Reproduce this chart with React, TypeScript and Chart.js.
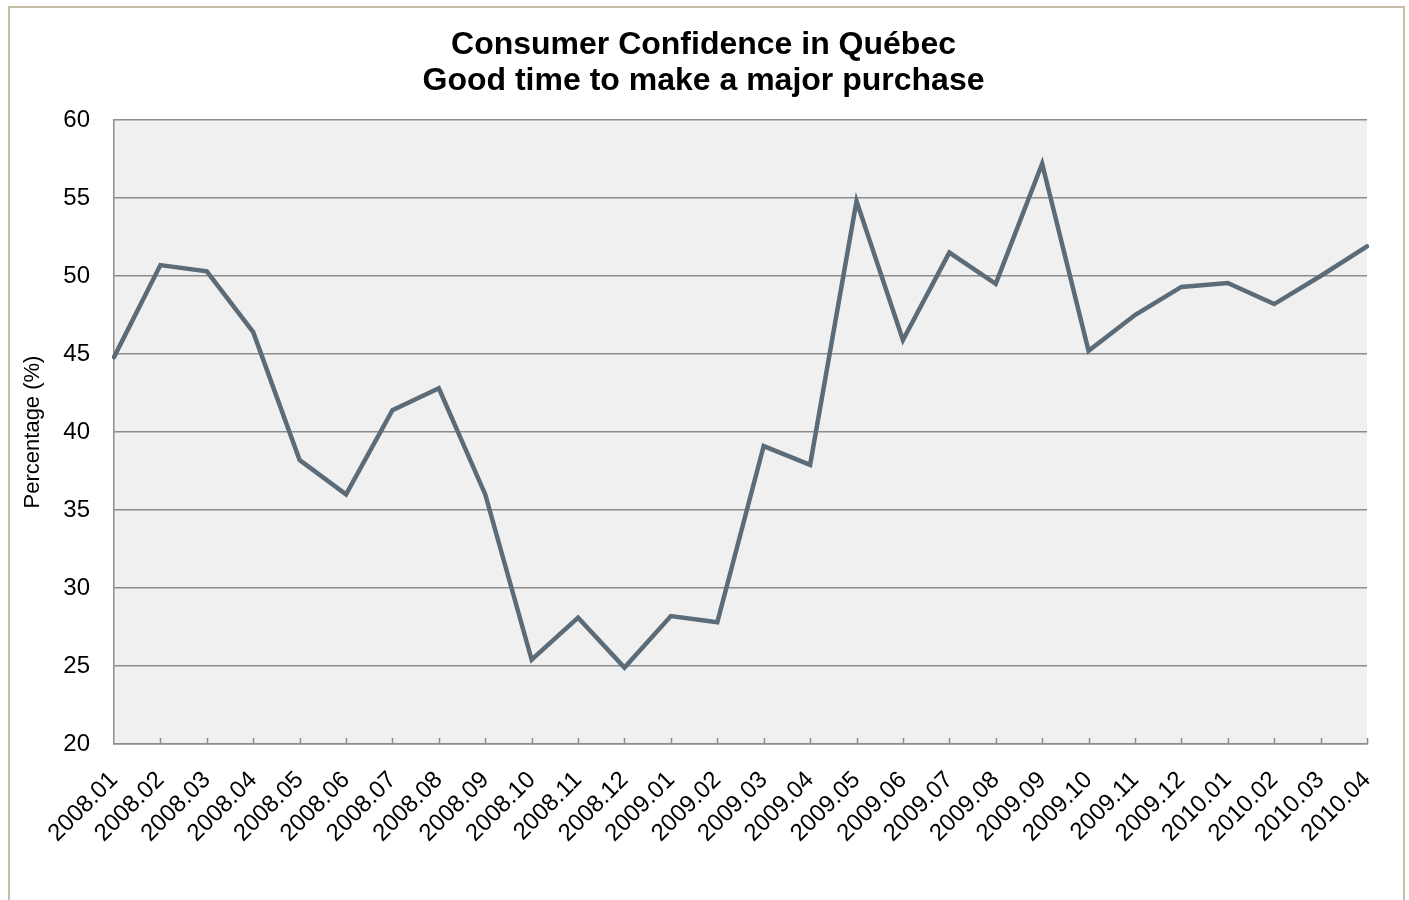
import React, { useEffect, useRef } from "react";
import { Chart, registerables } from "chart.js";

Chart.register(...registerables);

const categories = [
  "2008.01", "2008.02", "2008.03", "2008.04", "2008.05", "2008.06", "2008.07",
  "2008.08", "2008.09", "2008.10", "2008.11", "2008.12", "2009.01", "2009.02",
  "2009.03", "2009.04", "2009.05", "2009.06", "2009.07", "2009.08", "2009.09",
  "2009.10", "2009.11", "2009.12", "2010.01", "2010.02", "2010.03", "2010.04",
];

const confidence = [
  44.8, 50.7, 50.3, 46.4, 38.2, 36.0, 41.4,
  42.8, 36.0, 25.4, 28.1, 24.9, 28.2, 27.8,
  39.1, 37.9, 54.8, 45.9, 51.5, 49.5, 57.2,
  45.2, 47.5, 49.3, 49.55, 48.2, 50.0, 51.9,
];

const titleLines = ["Consumer Confidence in Québec", "Good time to make a major purchase"];
const yAxisTitle = "Percentage (%)";
const yMin = 20;
const yMax = 60;
const yStep = 5;

const FONT = "'Liberation Sans', Arial, sans-serif";

const plotBg = {
  id: "plotBg",
  beforeDraw(chart: any) {
    const { ctx, chartArea } = chart;
    if (!chartArea) return;
    ctx.save();
    ctx.fillStyle = "#f0f0f0";
    ctx.fillRect(chartArea.left, chartArea.top, chartArea.right - chartArea.left, chartArea.bottom - chartArea.top);
    ctx.restore();
  },
};

const innerTicks = {
  id: "innerTicks",
  afterDatasetsDraw(chart: any) {
    const { ctx } = chart;
    const xs = chart.scales.x;
    const bottom = chart.chartArea.bottom;
    ctx.save();
    ctx.strokeStyle = "#8c8c8c";
    ctx.lineWidth = 1.5;
    ctx.beginPath();
    for (let i = 1; i < xs.ticks.length; i++) {
      const px = Math.round(xs.getPixelForTick(i)) + 0.5;
      ctx.moveTo(px, bottom);
      ctx.lineTo(px, bottom - 6);
    }
    ctx.stroke();
    ctx.restore();
  },
};

export default function App() {
  const ref = useRef<HTMLCanvasElement | null>(null);

  useEffect(() => {
    if (!ref.current) return;
    const chart = new Chart(ref.current, {
      type: "line",
      data: {
        labels: categories,
        datasets: [
          {
            data: confidence,
            borderColor: "#5b6b77",
            borderWidth: 4.5,
            pointRadius: 0,
            tension: 0,
            borderCapStyle: "round",
            borderJoinStyle: "miter",
            fill: false,
          },
        ],
      },
      options: {
        animation: false,
        responsive: false,
        layout: { padding: { left: 30, right: 36, top: 0, bottom: 0 } },
        plugins: {
          legend: { display: false },
          tooltip: { enabled: false },
          title: {
            display: true,
            text: titleLines,
            color: "#000",
            font: { family: FONT, size: 32, weight: "bold", lineHeight: 1.125 },
            padding: { top: 19, bottom: 21 },
          },
        },
        scales: {
          x: {
            offset: false,
            grid: { display: false, drawTicks: false },
            border: { display: true, color: "#8c8c8c", width: 1.5 },
            ticks: {
              autoSkip: false,
              maxRotation: 45,
              minRotation: 45,
              padding: 22,
              color: "#000",
              font: { family: FONT, size: 24 },
            },
            afterFit(scale: any) {
              scale.height = 156;
              scale.paddingLeft = 0;
              scale.paddingRight = 0;
            },
          },
          y: {
            min: yMin,
            max: yMax,
            grid: { color: "#8c8c8c", lineWidth: 1.5, drawTicks: false },
            border: { display: true, color: "#8c8c8c", width: 1.5 },
            ticks: {
              stepSize: yStep,
              padding: 24,
              color: "#000",
              font: { family: FONT, size: 24 },
            },
            title: {
              display: true,
              text: yAxisTitle,
              color: "#000",
              font: { family: FONT, size: 22 },
              padding: { top: -20, bottom: 0 },
            },
            afterFit(scale: any) {
              scale.width = 74;
            },
          },
        },
      },
      plugins: [plotBg, innerTicks],
    });
    return () => chart.destroy();
  }, []);

  return (
    <div
      style={{
        position: "absolute",
        left: 8,
        top: 6,
        width: 1393,
        height: 892,
        borderTop: "2px solid #c6bea6",
        borderLeft: "2px solid #c6bea6",
        borderRight: "2px solid #c6bea6",
        background: "#fff",
      }}
    >
      <canvas ref={ref} width={1393} height={892} style={{ display: "block" }} />
    </div>
  );
}
